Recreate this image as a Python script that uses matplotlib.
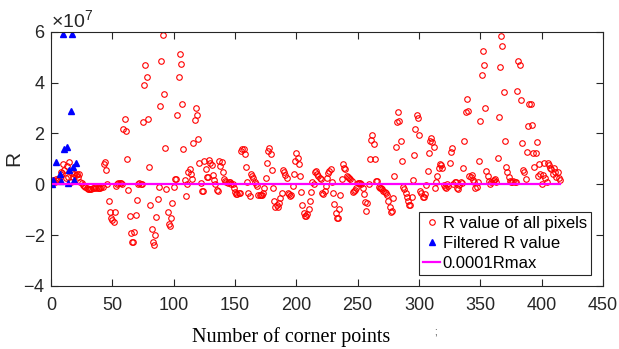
import numpy as np
import matplotlib
matplotlib.use("Agg")
import matplotlib.pyplot as plt
from matplotlib.ticker import ScalarFormatter

plt.rcParams['font.family'] = ['Liberation Sans', 'DejaVu Sans']
plt.rcParams['axes.unicode_minus'] = False
plt.rcParams['mathtext.fontset'] = 'custom'
plt.rcParams['mathtext.rm'] = 'Liberation Sans'

# R value of every corner point, in units of 1e7 (index 1..N)
r_all_e7 = [
    0.05, 0.15, 0.1, 0.2, 0.15, 0.18, 0.3, 0.47, 0.45, 0.79,
    0.55, 0.25, 0.73, 0.3, 0.89, 0.1, 0.44, 0.3, 0.4, 0.36,
    0.4, 0.3, 0.4, 0.1, 0.05, -0.02, -0.05, -0.1, -0.14, -0.17,
    -0.19, -0.2, -0.18, -0.16, -0.14, -0.12, -0.13, -0.15, -0.15, -0.14,
    -0.12, -0.1, 0.8, 0.88, 0.55, 0.0, -0.64, -1.1, -1.34, -1.42,
    -1.49, -1.1, -0.05, 0.02, 0.05, 0.06, 0.05, 0.02, 2.19, 2.56,
    2.11, 0.99, -0.23, -1.26, -1.92, -2.26, -2.26, -1.86, -1.2, -0.6,
    0.02, 0.05, 0.03, 0.0, 2.45, 3.89, 4.7, 4.22, 2.58, 0.69,
    -0.81, -1.76, -2.28, -2.39, -2.0, -1.3, -0.56, -0.12, 3.07, 4.85,
    5.88, 3.56, 1.44, -0.18, -1.09, -1.55, -1.65, -1.33, -0.72, -0.1,
    0.22, 0.2, 2.71, 4.22, 5.12, 4.72, 3.17, 1.39, 0.15, -0.47,
    0.0, 0.5, 0.6, 0.4, 0.2, 1.61, 2.52, 3.01, 2.71, 1.78,
    0.85, 0.05, -0.27, -0.27, 0.9, 0.6, 0.3, 0.27, 0.95, 0.85,
    0.75, 0.35, 0.15, 0.0, -0.21, -0.27, 0.92, 0.73, 0.88, 0.5,
    0.2, 0.14, 0.1, 0.05, 0.1, 0.1, 0.02, 0.0, -0.16, -0.29,
    -0.39, -0.37, -0.35, -0.33, 1.31, 1.39, 1.39, 1.19, 0.69, 0.1,
    -0.33, -0.47, 0.4, 0.33, 0.25, 0.1, 0.02, -0.05, -0.41, -0.43,
    -0.42, -0.41, -0.33, -0.16, 0.26, 0.82, 1.31, 1.44, 1.19, 0.58,
    -0.16, -0.66, -0.88, -0.81, -0.88, -0.72, -0.53, -0.33, 0.56, 0.47,
    0.35, 0.25, -0.33, -0.39, -0.47, -0.41, -0.05, 0.39, 0.92, 1.22,
    1.05, 0.79, 0.33, -0.29, -0.83, -1.13, -1.25, -1.25, -1.16, -0.97,
    -0.66, -0.29, 0.1, 0.0, 0.5, 0.54, 0.4, 0.33, 0.25, 0.2,
    -0.33, -0.39, -0.25, -0.05, 0.24, 0.43, 0.54, 0.59, 0.08, -0.35,
    -0.79, -1.14, -1.31, -1.31, -0.97, -0.43, 0.2, 0.79, 0.65, 0.59,
    0.34, 0.3, 0.24, 0.2, 0.14, -0.31, -0.25, -0.21, -0.13, 0.05,
    0.06, 0.04, 0.01, -0.16, -0.39, -0.71, -1.05, -0.75, 0.02, 0.99,
    1.74, 1.94, 1.58, 0.99, 0.14, 0.14, -0.1, -0.13, -0.16, -0.2,
    -0.25, -0.29, -0.35, -0.42, -0.64, -0.88, -1.08, -1.05, -0.55, 0.31,
    1.45, 2.46, 2.84, 2.5, 1.7, 0.9, -0.1, -0.2, -0.35, -0.5,
    -0.65, -0.83, -0.8, -0.5, 0.17, 1.16, 2.17, 2.72, 2.6, 1.94,
    -0.26, -0.35, -0.5, -0.5, -0.38, -0.03, 0.54, 1.22, 1.7, 1.81,
    1.65, 1.48, -0.13, 0.08, 0.34, 0.65, 0.8, 0.76, 0.63, -0.03,
    -0.1, -0.13, 0.0, -0.06, 0.82, 1.28, 1.44, 0.0, 0.08, 0.1,
    -0.13, -0.2, -0.03, 0.1, 0.05, 0.63, 1.69, 2.83, 3.35, 2.88,
    0.34, 0.3, 0.35, 0.18, 0.1, -0.16, -0.12, 0.1, 0.92, 2.5,
    4.3, 5.25, 4.69, 3.01, 0.54, 0.34, 0.14, 0.0, 0.08, 0.12,
    0.16, 0.2, 0.1, 1.02, 2.63, 4.6, 5.84, 5.45, 3.64, 1.69,
    0.67, 0.5, 0.29, 0.14, 0.1, 0.1, 0.12, 0.1, 0.1, 3.67,
    4.86, 4.7, 3.3, 1.64, 0.55, 0.5, 0.2, 1.28, 2.29, 3.16,
    3.16, 2.33, 1.22, 0.69, 1.22, 1.68, 0.34, 0.79, 0.4, 0.0,
    0.38, 0.82, 0.23, 0.1, 0.85, 0.76, 0.63, 0.61, 0.4, 0.63,
    0.5, 0.29, 0.47, 0.24, 0.18,
]

# filtered corner points (index, R in 1e7)
filt_idx = [1, 2, 4, 7, 8, 10, 11, 13, 14, 15, 16, 17, 18, 19, 20]
filt_e7 = [0.0, 0.17, 0.88, 0.41, 0.13, 5.9, 1.38, 1.48, 0.06, 0.56,
           2.88, 5.9, 0.69, 0.17, 0.83]

SCALE = 1e7
idx = np.arange(1, len(r_all_e7) + 1)
r_all = np.array(r_all_e7) * SCALE
r_filt = np.array(filt_e7) * SCALE
thr = 1e-4 * r_all.max()

DARK = "#262626"

fig = plt.figure(figsize=(6.19, 3.49), dpi=100)
ax = fig.add_axes([51 / 619, 1 - 286 / 349, 552 / 619, 254.3 / 349])

ax.plot(idx, r_all, "o", mfc="none", mec="red", ms=4.0, mew=0.8,
        ls="none", label="R value of all pixels")
ax.plot(filt_idx, r_filt, "^", color="blue", ms=4.3, ls="none",
        label="Filtered R value")
ax.plot(idx, np.full(len(idx), thr), color="magenta", lw=1.6,
        label="0.0001Rmax")

ax.set_xlim(0, 450)
ax.set_ylim(-4e7, 6e7)
ax.set_xticks(np.arange(0, 451, 50))
ax.set_yticks(np.arange(-4e7, 6.1e7, 2e7))
fmt = ScalarFormatter(useMathText=True)
ax.yaxis.set_major_formatter(fmt)
ax.yaxis.get_offset_text().set_fontsize(14)
ax.yaxis.get_offset_text().set_color(DARK)

ax.tick_params(direction="in", top=True, right=True, length=5, width=0.8,
               labelsize=13, colors=DARK)
ax.tick_params(axis="x", pad=8)
ax.tick_params(axis="y", pad=4)
for s in ax.spines.values():
    s.set_color(DARK)
    s.set_linewidth(0.8)

ax.set_ylabel("R", fontsize=15, color=DARK, labelpad=0)
ax.set_xlabel("Number of corner points", family=["Liberation Serif"],
              fontsize=14.5, color="black")
ax.xaxis.set_label_coords((291 - 51) / 552, (286 - 337) / 254.3)
ax.xaxis.label.set_va("center")

leg = ax.legend(loc="lower right", bbox_to_anchor=(0.978, 0.042),
                borderaxespad=0, fancybox=False, framealpha=1,
                edgecolor=DARK, fontsize=12, handlelength=1.0,
                handletextpad=0.15, labelspacing=0.3, borderpad=0.25)
leg.get_frame().set_linewidth(0.8)

fig.text(435.5 / 619, 1 - 331.5 / 349, ";", fontsize=7, color="#333333",
         ha="center", va="center")

fig.savefig("out.png", dpi=100)
